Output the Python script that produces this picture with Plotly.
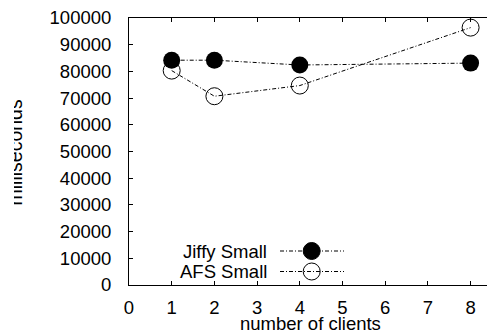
import plotly.graph_objects as go

# Measured completion times (milliseconds) by number of clients
clients = [1, 2, 4, 8]
jiffy_small_ms = [84200, 84200, 82400, 83100]
afs_small_ms = [80300, 70700, 74700, 96400]

series_names = ["Jiffy Small", "AFS Small"]
x_ticks = [0, 1, 2, 3, 4, 5, 6, 7, 8]
y_ticks = [0, 10000, 20000, 30000, 40000, 50000, 60000, 70000, 80000, 90000, 100000]

FONT = "Liberation Sans, Arial, Helvetica, sans-serif"
FS = 18.5
INK = "black"
DASH = "4px,2px,1px,2px"

W, H = 487, 333
ML, MR, MT, MB = 129, 0, 18, 48
PW, PH = W - ML - MR, H - MT - MB


def px_x(p):
    return (p - ML) / PW


def px_y(p):
    return (H - MB - p) / PH


fig = go.Figure()

fig.add_trace(go.Scatter(
    x=clients, y=jiffy_small_ms, mode="lines+markers", name=series_names[0],
    line=dict(color=INK, width=1, dash=DASH),
    marker=dict(symbol="circle", size=17, color=INK),
    showlegend=False,
))
fig.add_trace(go.Scatter(
    x=clients, y=afs_small_ms, mode="lines+markers", name=series_names[1],
    line=dict(color=INK, width=1, dash=DASH),
    marker=dict(symbol="circle-open", size=17, color=INK, line=dict(width=1, color=INK)),
    showlegend=False,
))

# Key drawn on an overlay axis in plot-fraction units, text left of the sample
key_rows = [px_y(251), px_y(271.5)]
key_line = [px_x(280), px_x(344)]
key_mark = px_x(311.7)
key_symbols = ["circle", "circle-open"]
for name, yy, sym in zip(series_names, key_rows, key_symbols):
    fig.add_trace(go.Scatter(
        x=key_line, y=[yy, yy], mode="lines", xaxis="x2", yaxis="y2",
        line=dict(color=INK, width=1, dash=DASH), showlegend=False, hoverinfo="skip",
    ))
    fig.add_trace(go.Scatter(
        x=[key_mark], y=[yy], mode="markers", xaxis="x2", yaxis="y2",
        marker=dict(symbol=sym, size=17, color=INK, line=dict(width=1, color=INK)),
        showlegend=False, hoverinfo="skip",
    ))
    fig.add_annotation(
        x=px_x(269), y=yy, xref="paper", yref="paper", text=name,
        showarrow=False, xanchor="right", yanchor="middle",
        font=dict(family=FONT, size=FS, color=INK),
    )

axis_common = dict(
    showline=True, linecolor=INK, linewidth=1, ticks="inside", ticklen=4,
    tickcolor=INK, tickwidth=1, showgrid=False, zeroline=False,
    tickfont=dict(family=FONT, size=FS, color=INK),
)

fig.update_layout(
    width=W, height=H,
    margin=dict(l=ML, r=MR, t=MT, b=MB, pad=0),
    paper_bgcolor="white", plot_bgcolor="white",
    font=dict(family=FONT, size=FS, color=INK),
    showlegend=False,
    xaxis=dict(range=[0, PW / 42.7], tickvals=x_ticks, mirror="allticks",
               ticklabelstandoff=6, **axis_common),
    yaxis=dict(range=[0, 100000], tickvals=y_ticks, tickformat="d", mirror=False,
               ticklabelstandoff=13, **axis_common),
    xaxis2=dict(range=[0, 1], overlaying="x", visible=False, fixedrange=True),
    yaxis2=dict(range=[0, 1], overlaying="y", visible=False, fixedrange=True),
)

fig.add_annotation(
    x=px_x(310), y=px_y(323.5), xref="paper", yref="paper",
    text="number of clients", showarrow=False, xanchor="center", yanchor="middle",
    font=dict(family=FONT, size=FS, color=INK),
)
fig.add_annotation(
    x=px_x(27), y=px_y(152.5), xref="paper", yref="paper",
    text="milliseconds", showarrow=False, textangle=-90,
    xanchor="right", yanchor="middle",
    font=dict(family=FONT, size=FS + 1, color=INK),
)
# the page edge trims the upper half of the rotated title
fig.add_annotation(
    x=0, y=px_y(152.5), xref="paper", yref="paper", text=" ",
    showarrow=False, xanchor="left", yanchor="middle", xshift=-ML,
    width=14, height=150, bgcolor="white", borderpad=0, borderwidth=0,
)

fig.write_html("out.html")
